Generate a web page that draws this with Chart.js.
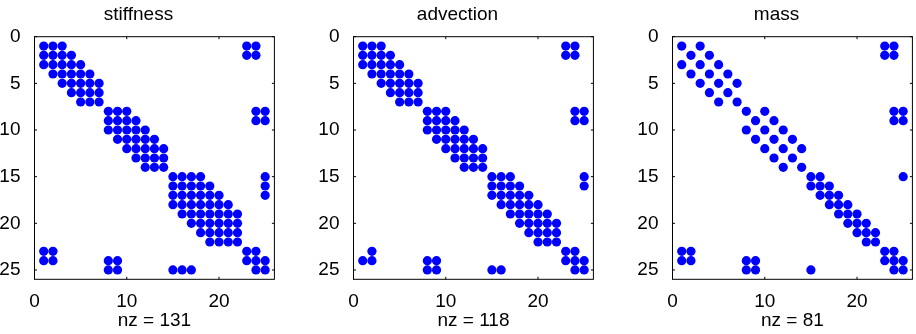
<!DOCTYPE html>
<html>
<head>
<meta charset="utf-8">
<script src="https://cdn.jsdelivr.net/npm/chart.js@4/dist/chart.umd.min.js"></script>
<style>
  html, body { margin: 0; padding: 0; background: #fff; overflow: hidden; }
  #wrap { position: relative; width: 916px; height: 334px; }
  canvas { position: absolute; top: 0; }
</style>
</head>
<body>
<div id="wrap">
  <canvas id="c0" width="279" height="334" style="left:0px"></canvas>
  <canvas id="c1" width="279" height="334" style="left:319px"></canvas>
  <canvas id="c2" width="279" height="334" style="left:638px"></canvas>
</div>
<script>
// Sparsity patterns of three 25x25 matrices: for each row (1..25), the columns holding a nonzero.
const stiffnessCols = [
  [1, 2, 3, 23, 24],
  [1, 2, 3, 4, 23, 24],
  [1, 2, 3, 4, 5],
  [2, 3, 4, 5, 6],
  [3, 4, 5, 6, 7],
  [4, 5, 6, 7],
  [5, 6, 7],
  [8, 9, 10, 24, 25],
  [8, 9, 10, 11, 24, 25],
  [8, 9, 10, 11, 12],
  [9, 10, 11, 12, 13],
  [10, 11, 12, 13, 14],
  [11, 12, 13, 14],
  [12, 13, 14],
  [15, 16, 17, 18, 25],
  [15, 16, 17, 18, 19, 25],
  [15, 16, 17, 18, 19, 20, 25],
  [15, 16, 17, 18, 19, 20, 21],
  [16, 17, 18, 19, 20, 21, 22],
  [17, 18, 19, 20, 21, 22],
  [18, 19, 20, 21, 22],
  [19, 20, 21, 22],
  [1, 2, 23, 24],
  [1, 2, 8, 9, 23, 24, 25],
  [8, 9, 15, 16, 17, 24, 25]
];

const advectionCols = [
  [1, 2, 3, 23, 24],
  [1, 2, 3, 4, 23, 24],
  [1, 2, 3, 4, 5],
  [2, 3, 4, 5, 6],
  [3, 4, 5, 6, 7],
  [4, 5, 6, 7],
  [5, 6, 7],
  [8, 9, 10, 24, 25],
  [8, 9, 10, 11, 24, 25],
  [8, 9, 10, 11, 12],
  [9, 10, 11, 12, 13],
  [10, 11, 12, 13, 14],
  [11, 12, 13, 14],
  [12, 13, 14],
  [15, 16, 17, 25],
  [15, 16, 17, 18, 25],
  [15, 16, 17, 18, 19],
  [16, 17, 18, 19, 20],
  [17, 18, 19, 20, 21],
  [18, 19, 20, 21, 22],
  [19, 20, 21, 22],
  [20, 21, 22],
  [2, 23, 24],
  [1, 2, 8, 9, 23, 24, 25],
  [8, 9, 15, 16, 24, 25]
];

const massCols = [
  [1, 3, 23, 24],
  [2, 4, 23, 24],
  [1, 3, 5],
  [2, 4, 6],
  [3, 5, 7],
  [4, 6],
  [5, 7],
  [8, 10, 24, 25],
  [9, 11, 24, 25],
  [8, 10, 12],
  [9, 11, 13],
  [10, 12, 14],
  [11, 13],
  [12, 14],
  [15, 16, 25],
  [15, 16, 17],
  [16, 17, 18],
  [17, 18, 19],
  [18, 19, 20],
  [19, 20, 21],
  [20, 21, 22],
  [21, 22],
  [1, 2, 23, 24],
  [1, 2, 8, 9, 23, 24, 25],
  [8, 9, 15, 24, 25]
];

const panelTitles = ['stiffness', 'advection', 'mass'];
const patterns = [stiffnessCols, advectionCols, massCols];
const xTickValues = [0, 10, 20];
const yTickValues = [0, 5, 10, 15, 20, 25];
const axisMax = 26;

const FONT = "'Liberation Sans', Arial, Helvetica, sans-serif";
const FONT_SIZE = 19;
Chart.defaults.font.family = FONT;
Chart.defaults.color = '#000';

function toPoints(rows) {
  const pts = [];
  rows.forEach((cols, i) => cols.forEach(c => pts.push({ x: c, y: i + 1 })));
  return pts;
}

// Closed box around the plot area with short inward tick marks on every side.
const boxPlugin = {
  id: 'spyBox',
  afterDatasetsDraw(chart) {
    const { ctx, chartArea: a, scales } = chart;
    const tl = 2.5;
    ctx.save();
    ctx.strokeStyle = '#000';
    ctx.lineWidth = 1;
    ctx.strokeRect(a.left, a.top, a.right - a.left, a.bottom - a.top);
    ctx.beginPath();
    xTickValues.forEach(v => {
      const px = scales.x.getPixelForValue(v);
      ctx.moveTo(px, a.bottom); ctx.lineTo(px, a.bottom - tl);
      ctx.moveTo(px, a.top); ctx.lineTo(px, a.top + tl);
    });
    yTickValues.forEach(v => {
      const py = scales.y.getPixelForValue(v);
      ctx.moveTo(a.left, py); ctx.lineTo(a.left + tl, py);
      ctx.moveTo(a.right, py); ctx.lineTo(a.right - tl, py);
    });
    ctx.stroke();
    ctx.restore();
  }
};

patterns.forEach((rows, k) => {
  const pts = toPoints(rows);
  new Chart(document.getElementById('c' + k), {
    type: 'scatter',
    data: {
      datasets: [{
        data: pts,
        pointRadius: 4.6,
        pointHoverRadius: 4.6,
        pointBackgroundColor: '#0000ff',
        pointBorderWidth: 0,
        borderColor: '#0000ff',
        showLine: false
      }]
    },
    options: {
      responsive: false,
      animation: false,
      devicePixelRatio: 1,
      events: [],
      layout: { padding: { left: 0, right: 2, top: 0, bottom: 0 } },
      plugins: {
        legend: { display: false },
        tooltip: { enabled: false },
        title: {
          display: true,
          text: panelTitles[k],
          color: '#000',
          font: { family: FONT, size: FONT_SIZE, weight: 'normal', lineHeight: 1.2 },
          padding: { top: 3, bottom: 10.9 }
        }
      },
      scales: {
        x: {
          type: 'linear',
          min: 0,
          max: axisMax,
          grid: { display: false },
          border: { display: false },
          afterBuildTicks: s => { s.ticks = xTickValues.map(v => ({ value: v })); },
          afterFit: s => { s.height = 54.7; },
          ticks: { padding: 3.5, maxRotation: 0, font: { family: FONT, size: FONT_SIZE }, color: '#000' },
          title: {
            display: true,
            text: 'nz = ' + pts.length,
            color: '#000',
            font: { family: FONT, size: FONT_SIZE, lineHeight: 1.2 },
            padding: { top: 2, bottom: 2 }
          }
        },
        y: {
          type: 'linear',
          min: 0,
          max: axisMax,
          reverse: true,
          grid: { display: false },
          border: { display: false },
          afterBuildTicks: s => { s.ticks = yTickValues.map(v => ({ value: v })); },
          afterFit: s => { s.width = 34.5; },
          ticks: { padding: 6, font: { family: FONT, size: FONT_SIZE }, color: '#000' }
        }
      }
    },
    plugins: [boxPlugin]
  });
});
</script>
</body>
</html>
